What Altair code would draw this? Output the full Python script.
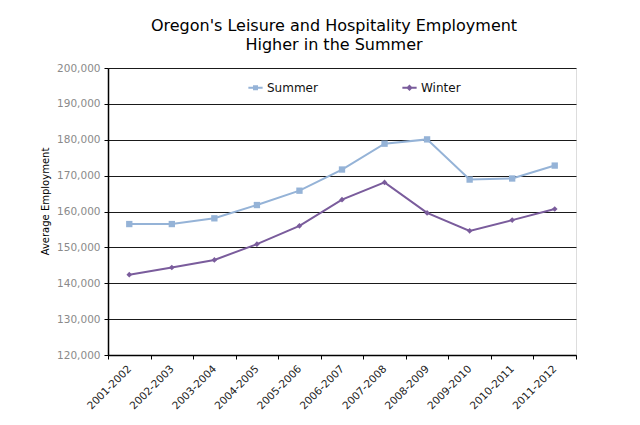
import altair as alt
import pandas as pd

seasons = ["2001-2002", "2002-2003", "2003-2004", "2004-2005", "2005-2006", "2006-2007",
           "2007-2008", "2008-2009", "2009-2010", "2010-2011", "2011-2012"]
summer = [156500, 156500, 158100, 161800, 165800, 171700, 178900, 180100, 168900, 169200, 172800]
winter = [142400, 144400, 146500, 150900, 156000, 163300, 168100, 159600, 154600, 157600, 160700]
series_names = ["Summer", "Winter"]
series_colors = ["#95B3D7", "#7A5C9C"]
y_ticks = [120000, 130000, 140000, 150000, 160000, 170000, 180000, 190000, 200000]

rows = []
for s, v in zip(seasons, summer):
    rows.append({"season": s, "series": "Summer", "value": v})
for s, v in zip(seasons, winter):
    rows.append({"season": s, "series": "Winter", "value": v})
df = pd.DataFrame(rows)

FONT = "DejaVu Sans"

x_enc = alt.X(
    "season:N", sort=seasons, title=None,
    scale=alt.Scale(paddingInner=0, paddingOuter=0),
    axis=alt.Axis(labelAngle=315, labelAlign="right", labelBaseline="middle",
                  labelFont=FONT, labelFontSize=10.5, labelColor="#222222",
                  labelPadding=8, tickSize=4, tickColor="black", tickBand="extent",
                  domainColor="black", domainWidth=1.5, grid=False, labelOverlap=False),
)
y_enc = alt.Y(
    "value:Q", title="Average Employment",
    scale=alt.Scale(domain=[120000, 200000], nice=False, zero=False),
    axis=alt.Axis(values=y_ticks, format=",.0f", labelFont=FONT, labelFontSize=10.5,
                  labelColor="#8a8a8a", labelPadding=4, tickSize=4, tickColor="black",
                  domainColor="black", domainWidth=1.5, gridColor="#1a1a1a", gridWidth=1,
                  titleFont=FONT, titleFontSize=10, titleFontWeight="normal",
                  titleColor="black", titlePadding=6, titleY=133),
)

base = alt.Chart(df).encode(x=x_enc, y=y_enc)

lines = base.mark_line(strokeWidth=2).encode(
    color=alt.Color("series:N", scale=alt.Scale(domain=series_names, range=series_colors), legend=None)
)
points = base.mark_point(filled=True, opacity=1).encode(
    color=alt.Color("series:N", scale=alt.Scale(domain=series_names, range=series_colors), legend=None),
    shape=alt.Shape("series:N", scale=alt.Scale(domain=series_names, range=["square", "diamond"]), legend=None),
    size=alt.Size("series:N", scale=alt.Scale(domain=series_names, range=[40, 32]), legend=None),
)

legend_paths = [
    "M-0.95,0H0.95M-0.2,-0.2H0.2V0.2H-0.2Z",
    "M-0.95,0H0.95M0,-0.25L0.25,0L0,0.25L-0.25,0Z",
]
leg = alt.Legend(
    title=None, orient="none", legendX=139, legendY=11, direction="horizontal",
    columns=2, columnPadding=80, labelFont=FONT, labelFontSize=12, labelColor="#111111",
    labelOffset=3, symbolSize=225, symbolStrokeWidth=2, symbolOpacity=1, padding=0,
)
legend_layer = base.mark_point(opacity=0, filled=False).encode(
    color=alt.Color("series:N", scale=alt.Scale(domain=series_names, range=series_colors), legend=leg),
    shape=alt.Shape("series:N", scale=alt.Scale(domain=series_names, range=legend_paths), legend=leg),
)

chart = alt.layer(lines, points, legend_layer).resolve_scale(
    color="independent", shape="independent", size="independent"
).properties(
    width=468, height=287,
    autosize=alt.AutoSizeParams(type="none"),
    padding={"left": 100, "top": 60, "right": 20, "bottom": 60},
    title=alt.TitleParams(
        text=["Oregon's Leisure and Hospitality Employment", "Higher in the Summer"],
        font=FONT, fontSize=16, fontWeight="normal", color="black",
        anchor="middle", dx=-8, offset=10, lineHeight=19,
    ),
).configure_view(stroke="black", strokeWidth=1.5).configure(background="white")

chart.save("out.html", embed_options={"renderer": "svg", "actions": False})
